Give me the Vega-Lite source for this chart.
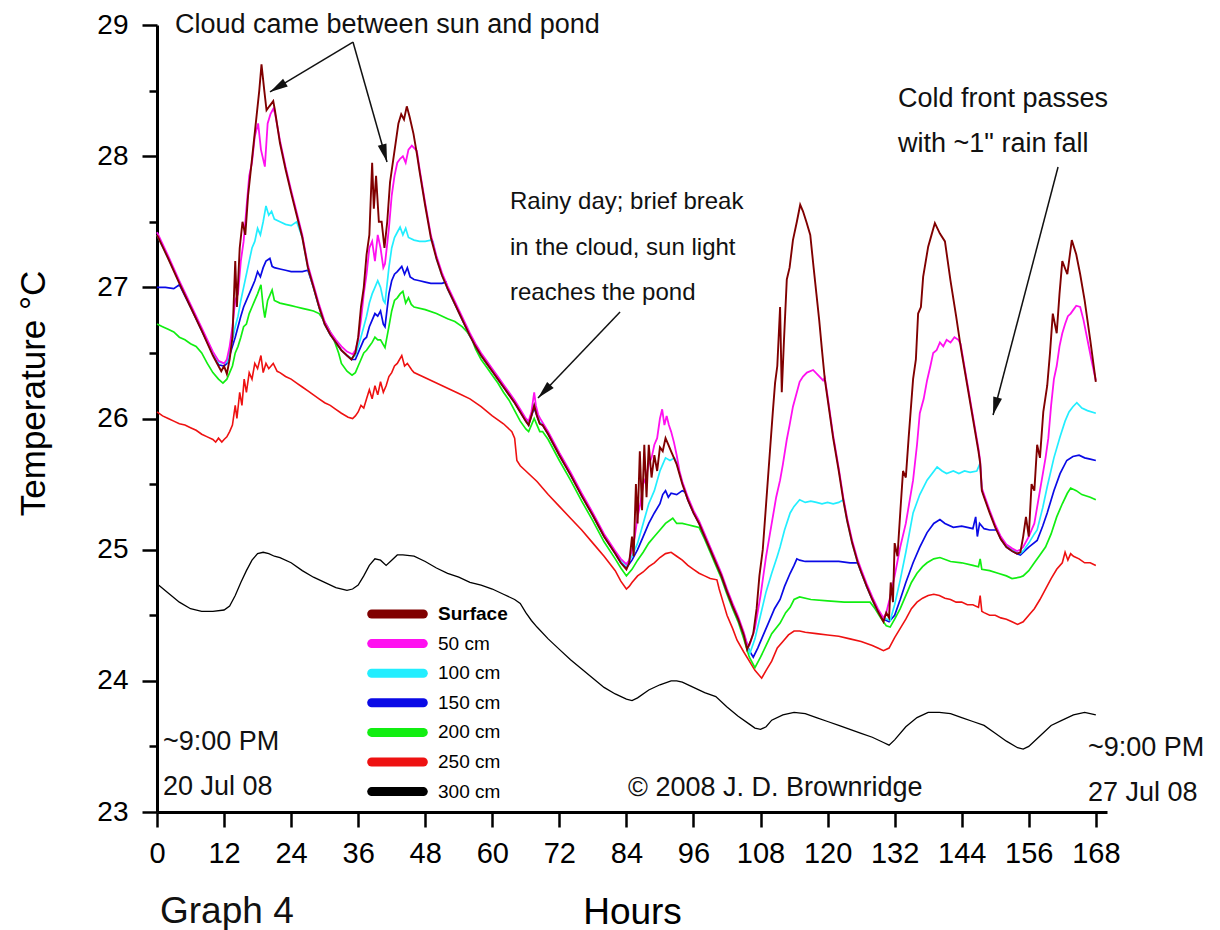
{
"$schema": "https://vega.github.io/schema/vega-lite/v6.json",
"width": 950, "height": 787,
"autosize": {"type": "none"},
"padding": {"left": 157, "top": 25, "right": 113, "bottom": 118},
"background": "white",
"datasets": {
"arrows": [
{"id": "a1", "h": 35.07, "t": 28.87, "h2": 20.22, "t2": 28.49},
{"id": "a2", "h": 35.07, "t": 28.87, "h2": 41.16, "t2": 27.956},
{"id": "a3", "h": 82.86, "t": 26.812, "h2": 68.18, "t2": 26.156},
{"id": "a4", "h": 161.24, "t": 27.917, "h2": 149.61, "t2": 26.027}
]
},
"layer": [
{"data": {"values": [{"h":0,"t":24.74},{"h":2,"t":24.67},{"h":4,"t":24.6},{"h":6,"t":24.55},{"h":8,"t":24.53},{"h":10,"t":24.53},{"h":12,"t":24.54},{"h":13,"t":24.57},{"h":14,"t":24.65},{"h":15,"t":24.75},{"h":16,"t":24.84},{"h":17,"t":24.92},{"h":18,"t":24.97},{"h":19,"t":24.98},{"h":20,"t":24.97},{"h":21,"t":24.95},{"h":22,"t":24.94},{"h":24,"t":24.9},{"h":26,"t":24.84},{"h":28,"t":24.79},{"h":30,"t":24.75},{"h":32,"t":24.71},{"h":34,"t":24.69},{"h":35,"t":24.7},{"h":36,"t":24.73},{"h":37,"t":24.8},{"h":38,"t":24.88},{"h":39,"t":24.93},{"h":40,"t":24.92},{"h":41,"t":24.88},{"h":42,"t":24.92},{"h":43,"t":24.96},{"h":44,"t":24.96},{"h":46,"t":24.95},{"h":48,"t":24.91},{"h":50,"t":24.86},{"h":52,"t":24.82},{"h":54,"t":24.79},{"h":56,"t":24.75},{"h":58,"t":24.73},{"h":60,"t":24.7},{"h":62,"t":24.66},{"h":64,"t":24.62},{"h":65,"t":24.59},{"h":66,"t":24.52},{"h":67,"t":24.46},{"h":68,"t":24.41},{"h":70,"t":24.32},{"h":72,"t":24.24},{"h":74,"t":24.16},{"h":76,"t":24.09},{"h":78,"t":24.02},{"h":80,"t":23.95},{"h":82,"t":23.9},{"h":84,"t":23.86},{"h":85,"t":23.85},{"h":86,"t":23.87},{"h":88,"t":23.93},{"h":90,"t":23.97},{"h":92,"t":24.0},{"h":93,"t":24.0},{"h":94,"t":23.99},{"h":96,"t":23.95},{"h":98,"t":23.91},{"h":100,"t":23.88},{"h":102,"t":23.8},{"h":104,"t":23.73},{"h":106,"t":23.67},{"h":107,"t":23.64},{"h":108,"t":23.63},{"h":109,"t":23.65},{"h":110,"t":23.7},{"h":112,"t":23.74},{"h":114,"t":23.76},{"h":116,"t":23.75},{"h":118,"t":23.72},{"h":120,"t":23.69},{"h":122,"t":23.66},{"h":124,"t":23.63},{"h":126,"t":23.6},{"h":128,"t":23.57},{"h":130,"t":23.53},{"h":131,"t":23.51},{"h":132,"t":23.55},{"h":134,"t":23.65},{"h":136,"t":23.72},{"h":138,"t":23.76},{"h":140,"t":23.76},{"h":142,"t":23.75},{"h":144,"t":23.72},{"h":146,"t":23.69},{"h":148,"t":23.66},{"h":150,"t":23.6},{"h":152,"t":23.54},{"h":154,"t":23.49},{"h":155,"t":23.48},{"h":156,"t":23.5},{"h":158,"t":23.58},{"h":160,"t":23.66},{"h":162,"t":23.7},{"h":164,"t":23.74},{"h":166,"t":23.76},{"h":168,"t":23.74}]},
 "mark": {"type": "line", "strokeWidth": 1.3},
 "encoding": {
  "x": {"field": "h", "type": "quantitative", "scale": {"domain": [0, 170], "nice": false, "zero": false},
   "axis": {"title": "Hours", "values": [0,6,12,18,24,30,36,42,48,54,60,66,72,78,84,90,96,102,108,114,120,126,132,138,144,150,156,162,168],
    "labelExpr": "datum.value % 12 === 0 ? datum.label : ''",
    "tickSize": {"condition": {"test": "datum.value % 12 === 0", "value": 15}, "value": 8},
    "labelPadding": 12, "labelFlush": false, "labelOverlap": false, "labelBound": false, "labelFontSize": 29,
    "titleFontSize": 37, "titleY": 111, "titleBaseline": "alphabetic"}},
  "y": {"field": "t", "type": "quantitative", "scale": {"domain": [23, 29], "nice": false, "zero": false},
   "axis": {"title": "Temperature °C", "values": [23,23.5,24,24.5,25,25.5,26,26.5,27,27.5,28,28.5,29],
    "labelExpr": "datum.value % 1 === 0 ? format(datum.value, 'd') : ''",
    "tickSize": {"condition": {"test": "datum.value % 1 === 0", "value": 15}, "value": 8},
    "labelPadding": 14, "labelFlush": false, "labelOverlap": false,
    "titleFontSize": 35, "titleX": -124, "titleY": 368, "titleAngle": -90, "titleBaseline": "middle", "titleAlign": "center"}},
  "color": {"datum": "300 cm", "type": "nominal",
   "scale": {"domain": ["Surface", "50 cm", "100 cm", "150 cm", "200 cm", "250 cm", "300 cm"],
             "range": ["#800000", "#FF10F0", "#22EEFF", "#0A0AE6", "#11EE11", "#EE1111", "#000000"]},
   "legend": {"title": null, "orient": "none", "legendX": 230, "legendY": 578.5, "padding": 0,
    "symbolType": "M-4.3,0H4.3", "symbolSize": 144, "symbolStrokeWidth": 9, "symbolOpacity": 1,
    "labelFontSize": 19, "labelOffset": 30, "rowPadding": -7.4, "labelColor": "#000", "labelFont": "Liberation Sans",
    "encode": {"symbols": {"update": {"strokeCap": {"value": "round"}, "strokeWidth": {"value": 9}}},
               "labels": {"update": {"fontWeight": {"signal": "datum.label === 'Surface' ? 'bold' : 'normal'"}}}}}}
 }
},
{"data": {"values": [{"h":0,"t":26.05},{"h":1,"t":26.02},{"h":2,"t":26.0},{"h":3,"t":25.98},{"h":4,"t":25.96},{"h":5,"t":25.95},{"h":6,"t":25.93},{"h":7,"t":25.91},{"h":8,"t":25.88},{"h":9,"t":25.86},{"h":10,"t":25.84},{"h":10.5,"t":25.82},{"h":11,"t":25.85},{"h":11.6,"t":25.82},{"h":12,"t":25.84},{"h":12.5,"t":25.86},{"h":13,"t":25.9},{"h":13.5,"t":25.95},{"h":14,"t":26.1},{"h":14.3,"t":26.0},{"h":14.8,"t":26.2},{"h":15.2,"t":26.1},{"h":15.6,"t":26.3},{"h":16,"t":26.2},{"h":16.5,"t":26.35},{"h":17,"t":26.3},{"h":17.5,"t":26.42},{"h":18,"t":26.38},{"h":18.6,"t":26.48},{"h":19,"t":26.35},{"h":19.5,"t":26.42},{"h":20,"t":26.38},{"h":20.8,"t":26.42},{"h":21.5,"t":26.36},{"h":22,"t":26.35},{"h":23,"t":26.32},{"h":24,"t":26.3},{"h":25,"t":26.27},{"h":26,"t":26.24},{"h":27,"t":26.21},{"h":28,"t":26.18},{"h":29,"t":26.15},{"h":30,"t":26.12},{"h":31,"t":26.1},{"h":32,"t":26.07},{"h":33,"t":26.04},{"h":34.2,"t":26.01},{"h":35,"t":26.0},{"h":35.5,"t":26.02},{"h":36,"t":26.05},{"h":36.5,"t":26.1},{"h":37,"t":26.08},{"h":37.5,"t":26.15},{"h":38,"t":26.22},{"h":38.5,"t":26.15},{"h":39,"t":26.25},{"h":39.5,"t":26.18},{"h":40,"t":26.28},{"h":40.5,"t":26.2},{"h":41,"t":26.25},{"h":41.5,"t":26.32},{"h":42,"t":26.35},{"h":42.5,"t":26.4},{"h":43,"t":26.42},{"h":43.8,"t":26.48},{"h":44.3,"t":26.4},{"h":44.8,"t":26.42},{"h":45.6,"t":26.37},{"h":46,"t":26.35},{"h":48,"t":26.31},{"h":50,"t":26.27},{"h":52,"t":26.23},{"h":54,"t":26.19},{"h":56,"t":26.15},{"h":58,"t":26.09},{"h":60,"t":26.02},{"h":62,"t":25.96},{"h":63.5,"t":25.9},{"h":64,"t":25.85},{"h":64.4,"t":25.68},{"h":65,"t":25.64},{"h":66,"t":25.6},{"h":68,"t":25.52},{"h":70,"t":25.42},{"h":72,"t":25.33},{"h":74,"t":25.24},{"h":76,"t":25.15},{"h":78,"t":25.05},{"h":80,"t":24.95},{"h":82,"t":24.84},{"h":83,"t":24.76},{"h":84,"t":24.7},{"h":84.5,"t":24.72},{"h":85,"t":24.75},{"h":86,"t":24.8},{"h":87,"t":24.83},{"h":88,"t":24.87},{"h":89,"t":24.9},{"h":90,"t":24.94},{"h":91,"t":24.97},{"h":92,"t":24.98},{"h":93,"t":24.95},{"h":94,"t":24.92},{"h":95,"t":24.88},{"h":96,"t":24.85},{"h":97,"t":24.82},{"h":98,"t":24.8},{"h":99,"t":24.78},{"h":100.2,"t":24.77},{"h":100.6,"t":24.7},{"h":101.3,"t":24.6},{"h":102,"t":24.5},{"h":103,"t":24.4},{"h":103.8,"t":24.31},{"h":105,"t":24.22},{"h":106,"t":24.15},{"h":107,"t":24.08},{"h":108.2,"t":24.02},{"h":109,"t":24.08},{"h":110,"t":24.15},{"h":111,"t":24.25},{"h":112,"t":24.3},{"h":113,"t":24.35},{"h":114,"t":24.38},{"h":115,"t":24.38},{"h":116,"t":24.37},{"h":118,"t":24.36},{"h":120,"t":24.35},{"h":122,"t":24.34},{"h":124,"t":24.32},{"h":126,"t":24.3},{"h":128,"t":24.27},{"h":129,"t":24.25},{"h":130,"t":24.23},{"h":131,"t":24.25},{"h":132,"t":24.33},{"h":133,"t":24.4},{"h":134,"t":24.47},{"h":135,"t":24.55},{"h":136,"t":24.6},{"h":137,"t":24.63},{"h":138,"t":24.65},{"h":139,"t":24.66},{"h":140,"t":24.65},{"h":141,"t":24.63},{"h":142,"t":24.62},{"h":143,"t":24.6},{"h":144,"t":24.6},{"h":145,"t":24.58},{"h":146,"t":24.58},{"h":147,"t":24.56},{"h":147.3,"t":24.65},{"h":147.6,"t":24.53},{"h":148,"t":24.52},{"h":149,"t":24.5},{"h":150,"t":24.5},{"h":151,"t":24.48},{"h":152,"t":24.47},{"h":153,"t":24.45},{"h":154,"t":24.43},{"h":155,"t":24.45},{"h":156,"t":24.5},{"h":157,"t":24.55},{"h":158,"t":24.62},{"h":159,"t":24.7},{"h":160,"t":24.78},{"h":161,"t":24.85},{"h":162,"t":24.9},{"h":162.5,"t":24.98},{"h":163,"t":24.92},{"h":163.5,"t":24.97},{"h":164,"t":24.95},{"h":165,"t":24.93},{"h":166,"t":24.9},{"h":167,"t":24.9},{"h":168,"t":24.88}]},
 "mark": {"type": "line", "strokeWidth": 1.6},
 "encoding": {"x": {"field": "h", "type": "quantitative"}, "y": {"field": "t", "type": "quantitative"}, "color": {"datum": "250 cm", "type": "nominal"}}
},
{"data": {"values": [{"h":0,"t":26.72},{"h":1,"t":26.7},{"h":2,"t":26.68},{"h":3,"t":26.66},{"h":4,"t":26.62},{"h":5,"t":26.6},{"h":6,"t":26.57},{"h":7,"t":26.55},{"h":8,"t":26.5},{"h":9,"t":26.42},{"h":10,"t":26.35},{"h":11,"t":26.3},{"h":11.8,"t":26.27},{"h":12.5,"t":26.3},{"h":13,"t":26.35},{"h":13.5,"t":26.4},{"h":14,"t":26.5},{"h":14.5,"t":26.55},{"h":15,"t":26.62},{"h":15.5,"t":26.7},{"h":16,"t":26.72},{"h":16.5,"t":26.8},{"h":17,"t":26.85},{"h":17.5,"t":26.9},{"h":18,"t":26.95},{"h":18.6,"t":27.02},{"h":19,"t":26.85},{"h":19.3,"t":26.77},{"h":19.8,"t":26.9},{"h":20.3,"t":26.95},{"h":20.6,"t":26.98},{"h":21,"t":26.9},{"h":22,"t":26.88},{"h":23,"t":26.87},{"h":24,"t":26.86},{"h":25,"t":26.85},{"h":26,"t":26.84},{"h":27,"t":26.83},{"h":28,"t":26.82},{"h":29,"t":26.8},{"h":29.5,"t":26.77},{"h":30.5,"t":26.7},{"h":31.5,"t":26.62},{"h":32.5,"t":26.5},{"h":33,"t":26.42},{"h":34,"t":26.36},{"h":34.9,"t":26.33},{"h":35.5,"t":26.35},{"h":36,"t":26.4},{"h":36.5,"t":26.45},{"h":37,"t":26.5},{"h":37.5,"t":26.52},{"h":38,"t":26.55},{"h":38.5,"t":26.58},{"h":39,"t":26.62},{"h":39.5,"t":26.6},{"h":40,"t":26.6},{"h":40.8,"t":26.54},{"h":41.5,"t":26.7},{"h":42,"t":26.82},{"h":42.5,"t":26.9},{"h":43,"t":26.92},{"h":43.5,"t":26.95},{"h":44,"t":26.97},{"h":44.5,"t":26.88},{"h":45,"t":26.92},{"h":45.5,"t":26.87},{"h":46,"t":26.85},{"h":48,"t":26.83},{"h":50,"t":26.8},{"h":52,"t":26.76},{"h":53.3,"t":26.74},{"h":54.6,"t":26.7},{"h":55.5,"t":26.66},{"h":56.3,"t":26.61},{"h":57,"t":26.53},{"h":58,"t":26.45},{"h":59,"t":26.39},{"h":60,"t":26.33},{"h":61,"t":26.27},{"h":62,"t":26.2},{"h":63,"t":26.14},{"h":64,"t":26.06},{"h":65,"t":25.98},{"h":66,"t":25.92},{"h":66.5,"t":25.9},{"h":67,"t":25.95},{"h":67.5,"t":26.0},{"h":68,"t":25.95},{"h":68.5,"t":25.9},{"h":69,"t":25.9},{"h":70,"t":25.84},{"h":72,"t":25.68},{"h":74,"t":25.53},{"h":76,"t":25.37},{"h":78,"t":25.22},{"h":80,"t":25.06},{"h":82,"t":24.93},{"h":83,"t":24.86},{"h":84,"t":24.8},{"h":85,"t":24.85},{"h":86,"t":24.92},{"h":87,"t":24.98},{"h":88,"t":25.05},{"h":89,"t":25.1},{"h":90,"t":25.15},{"h":91,"t":25.2},{"h":92.3,"t":25.24},{"h":93,"t":25.2},{"h":94,"t":25.2},{"h":95,"t":25.19},{"h":96,"t":25.18},{"h":97,"t":25.17},{"h":98,"t":25.08},{"h":99,"t":24.98},{"h":100,"t":24.88},{"h":101,"t":24.78},{"h":102,"t":24.66},{"h":103,"t":24.55},{"h":104,"t":24.45},{"h":105,"t":24.32},{"h":106,"t":24.18},{"h":107,"t":24.1},{"h":108,"t":24.18},{"h":109,"t":24.27},{"h":110,"t":24.36},{"h":111.5,"t":24.44},{"h":112.5,"t":24.52},{"h":113.3,"t":24.56},{"h":114,"t":24.62},{"h":115,"t":24.64},{"h":117,"t":24.62},{"h":120,"t":24.61},{"h":123,"t":24.6},{"h":125,"t":24.6},{"h":127.6,"t":24.6},{"h":128.5,"t":24.55},{"h":129.5,"t":24.48},{"h":130.5,"t":24.42},{"h":131.2,"t":24.41},{"h":132,"t":24.47},{"h":133,"t":24.55},{"h":134.2,"t":24.67},{"h":135,"t":24.75},{"h":136,"t":24.82},{"h":137,"t":24.87},{"h":137.8,"t":24.9},{"h":139,"t":24.93},{"h":140.1,"t":24.94},{"h":142,"t":24.91},{"h":144,"t":24.9},{"h":146,"t":24.88},{"h":147,"t":24.87},{"h":147.3,"t":24.93},{"h":147.6,"t":24.85},{"h":149,"t":24.84},{"h":150.5,"t":24.82},{"h":152,"t":24.8},{"h":153,"t":24.78},{"h":154.4,"t":24.79},{"h":155,"t":24.8},{"h":156,"t":24.84},{"h":157,"t":24.9},{"h":158,"t":24.96},{"h":159,"t":25.02},{"h":160,"t":25.12},{"h":161,"t":25.25},{"h":162,"t":25.35},{"h":162.9,"t":25.43},{"h":163.5,"t":25.47},{"h":164.5,"t":25.45},{"h":165.5,"t":25.42},{"h":167,"t":25.4},{"h":168,"t":25.38}]},
 "mark": {"type": "line", "strokeWidth": 1.7},
 "encoding": {"x": {"field": "h", "type": "quantitative"}, "y": {"field": "t", "type": "quantitative"}, "color": {"datum": "200 cm", "type": "nominal"}}
},
{"data": {"values": [{"h":0,"t":27.0},{"h":1.5,"t":27.0},{"h":3,"t":26.99},{"h":4,"t":27.02},{"h":6,"t":26.85},{"h":8,"t":26.67},{"h":10,"t":26.49},{"h":11,"t":26.41},{"h":12,"t":26.4},{"h":12.5,"t":26.42},{"h":13,"t":26.48},{"h":13.5,"t":26.55},{"h":14,"t":26.62},{"h":14.5,"t":26.7},{"h":15,"t":26.78},{"h":15.5,"t":26.85},{"h":16,"t":26.9},{"h":16.5,"t":26.95},{"h":17,"t":27.0},{"h":17.5,"t":27.05},{"h":18,"t":27.12},{"h":18.5,"t":27.08},{"h":19,"t":27.15},{"h":19.5,"t":27.2},{"h":20.2,"t":27.22},{"h":20.6,"t":27.16},{"h":21,"t":27.15},{"h":22,"t":27.14},{"h":23,"t":27.13},{"h":24,"t":27.12},{"h":25,"t":27.12},{"h":26,"t":27.12},{"h":27,"t":27.13},{"h":28,"t":27.0},{"h":29,"t":26.85},{"h":30,"t":26.72},{"h":31,"t":26.64},{"h":32,"t":26.58},{"h":33,"t":26.52},{"h":34,"t":26.48},{"h":34.8,"t":26.45},{"h":35.5,"t":26.45},{"h":36,"t":26.5},{"h":36.5,"t":26.55},{"h":37,"t":26.6},{"h":37.5,"t":26.62},{"h":38,"t":26.7},{"h":38.5,"t":26.75},{"h":39,"t":26.8},{"h":39.5,"t":26.78},{"h":40,"t":26.82},{"h":40.5,"t":26.72},{"h":40.8,"t":26.7},{"h":41.5,"t":26.95},{"h":42,"t":27.05},{"h":42.5,"t":27.1},{"h":43,"t":27.12},{"h":43.8,"t":27.16},{"h":44.3,"t":27.1},{"h":44.8,"t":27.15},{"h":45.3,"t":27.08},{"h":46,"t":27.06},{"h":47,"t":27.05},{"h":48,"t":27.04},{"h":49,"t":27.03},{"h":50,"t":27.03},{"h":51,"t":27.03},{"h":51.7,"t":27.04},{"h":52,"t":26.99},{"h":53,"t":26.9},{"h":54,"t":26.81},{"h":55,"t":26.72},{"h":56,"t":26.63},{"h":57,"t":26.55},{"h":58,"t":26.48},{"h":59,"t":26.42},{"h":60,"t":26.36},{"h":61,"t":26.3},{"h":62,"t":26.24},{"h":63,"t":26.18},{"h":64,"t":26.12},{"h":65,"t":26.05},{"h":66,"t":25.98},{"h":66.5,"t":25.95},{"h":67,"t":26.02},{"h":67.5,"t":26.08},{"h":68,"t":26.02},{"h":68.5,"t":25.96},{"h":69,"t":25.95},{"h":70,"t":25.88},{"h":72,"t":25.72},{"h":74,"t":25.57},{"h":76,"t":25.41},{"h":78,"t":25.26},{"h":80,"t":25.1},{"h":82,"t":24.97},{"h":83,"t":24.9},{"h":84,"t":24.86},{"h":85,"t":24.92},{"h":86,"t":25.0},{"h":87,"t":25.1},{"h":88,"t":25.2},{"h":89,"t":25.28},{"h":90,"t":25.35},{"h":90.5,"t":25.42},{"h":91,"t":25.45},{"h":91.5,"t":25.4},{"h":92,"t":25.43},{"h":93,"t":25.42},{"h":94,"t":25.45},{"h":94.5,"t":25.44},{"h":95,"t":25.38},{"h":96,"t":25.28},{"h":97,"t":25.2},{"h":98,"t":25.1},{"h":99,"t":25.0},{"h":100,"t":24.9},{"h":101,"t":24.8},{"h":102,"t":24.68},{"h":103,"t":24.57},{"h":104,"t":24.47},{"h":105,"t":24.35},{"h":106,"t":24.23},{"h":106.7,"t":24.18},{"h":107.5,"t":24.25},{"h":108.5,"t":24.35},{"h":109.5,"t":24.45},{"h":110.5,"t":24.55},{"h":111.5,"t":24.62},{"h":112.3,"t":24.72},{"h":113.3,"t":24.82},{"h":114,"t":24.88},{"h":114.5,"t":24.93},{"h":115,"t":24.92},{"h":116,"t":24.91},{"h":118,"t":24.91},{"h":120,"t":24.91},{"h":122,"t":24.91},{"h":124,"t":24.9},{"h":125.4,"t":24.9},{"h":126,"t":24.83},{"h":127,"t":24.72},{"h":128,"t":24.62},{"h":129,"t":24.53},{"h":130,"t":24.47},{"h":131,"t":24.45},{"h":132,"t":24.5},{"h":133,"t":24.62},{"h":134,"t":24.75},{"h":135.3,"t":24.9},{"h":136.5,"t":25.02},{"h":137.8,"t":25.13},{"h":139,"t":25.2},{"h":140.1,"t":25.23},{"h":141,"t":25.2},{"h":142.5,"t":25.17},{"h":144,"t":25.18},{"h":145,"t":25.17},{"h":146,"t":25.16},{"h":146.5,"t":25.25},{"h":146.8,"t":25.1},{"h":147.2,"t":25.2},{"h":148,"t":25.16},{"h":149,"t":25.15},{"h":150.3,"t":25.15},{"h":151,"t":25.08},{"h":152,"t":25.02},{"h":153,"t":24.99},{"h":153.9,"t":24.97},{"h":154.5,"t":24.96},{"h":155,"t":24.98},{"h":156,"t":25.02},{"h":157.5,"t":25.07},{"h":158.5,"t":25.18},{"h":159.3,"t":25.28},{"h":160.5,"t":25.45},{"h":161.6,"t":25.58},{"h":162.8,"t":25.68},{"h":163.9,"t":25.71},{"h":165,"t":25.72},{"h":166,"t":25.7},{"h":167,"t":25.69},{"h":168,"t":25.68}]},
 "mark": {"type": "line", "strokeWidth": 1.7},
 "encoding": {"x": {"field": "h", "type": "quantitative"}, "y": {"field": "t", "type": "quantitative"}, "color": {"datum": "150 cm", "type": "nominal"}}
},
{"data": {"values": [{"h":0,"t":27.4},{"h":2,"t":27.22},{"h":4,"t":27.04},{"h":6,"t":26.86},{"h":8,"t":26.68},{"h":10,"t":26.5},{"h":11,"t":26.43},{"h":12,"t":26.42},{"h":12.5,"t":26.43},{"h":13,"t":26.5},{"h":13.5,"t":26.6},{"h":14,"t":26.7},{"h":14.5,"t":26.78},{"h":15,"t":26.9},{"h":15.5,"t":27.0},{"h":16,"t":27.1},{"h":16.5,"t":27.2},{"h":17,"t":27.3},{"h":17.5,"t":27.35},{"h":18,"t":27.45},{"h":18.5,"t":27.4},{"h":19,"t":27.5},{"h":19.5,"t":27.62},{"h":20,"t":27.55},{"h":20.5,"t":27.58},{"h":21,"t":27.52},{"h":22,"t":27.5},{"h":23,"t":27.48},{"h":24,"t":27.47},{"h":25,"t":27.5},{"h":26,"t":27.38},{"h":27,"t":27.15},{"h":28,"t":27.0},{"h":29,"t":26.85},{"h":30,"t":26.72},{"h":31,"t":26.64},{"h":32,"t":26.58},{"h":33,"t":26.52},{"h":34,"t":26.48},{"h":34.8,"t":26.46},{"h":35.5,"t":26.48},{"h":36,"t":26.55},{"h":36.5,"t":26.62},{"h":37,"t":26.7},{"h":37.5,"t":26.78},{"h":38,"t":26.88},{"h":38.5,"t":26.95},{"h":39,"t":27.0},{"h":39.5,"t":27.05},{"h":40,"t":27.0},{"h":40.5,"t":26.9},{"h":40.8,"t":26.88},{"h":41.5,"t":27.15},{"h":42,"t":27.3},{"h":42.5,"t":27.38},{"h":43,"t":27.42},{"h":43.5,"t":27.46},{"h":44,"t":27.4},{"h":44.5,"t":27.45},{"h":45,"t":27.38},{"h":46,"t":27.36},{"h":47,"t":27.35},{"h":48,"t":27.35},{"h":49,"t":27.36},{"h":49.4,"t":27.35},{"h":50,"t":27.22},{"h":51,"t":27.09},{"h":52,"t":26.99},{"h":53,"t":26.9},{"h":54,"t":26.81},{"h":55,"t":26.72},{"h":56,"t":26.63},{"h":57,"t":26.56},{"h":58,"t":26.49},{"h":59,"t":26.43},{"h":60,"t":26.37},{"h":61,"t":26.31},{"h":62,"t":26.25},{"h":63,"t":26.19},{"h":64,"t":26.13},{"h":65,"t":26.06},{"h":66,"t":25.99},{"h":66.5,"t":25.96},{"h":67,"t":26.03},{"h":67.5,"t":26.1},{"h":68,"t":26.03},{"h":68.5,"t":25.97},{"h":69,"t":25.96},{"h":70,"t":25.89},{"h":72,"t":25.73},{"h":74,"t":25.58},{"h":76,"t":25.42},{"h":78,"t":25.27},{"h":80,"t":25.11},{"h":82,"t":24.98},{"h":83,"t":24.92},{"h":84,"t":24.88},{"h":85,"t":24.95},{"h":86,"t":25.05},{"h":87,"t":25.2},{"h":88,"t":25.35},{"h":89,"t":25.45},{"h":90,"t":25.6},{"h":90.5,"t":25.65},{"h":91,"t":25.7},{"h":91.8,"t":25.68},{"h":92.6,"t":25.7},{"h":93,"t":25.66},{"h":94,"t":25.51},{"h":95,"t":25.39},{"h":96,"t":25.29},{"h":97,"t":25.21},{"h":98,"t":25.11},{"h":99,"t":25.01},{"h":100,"t":24.91},{"h":101,"t":24.81},{"h":102,"t":24.69},{"h":103,"t":24.58},{"h":104,"t":24.48},{"h":105,"t":24.36},{"h":106.1,"t":24.21},{"h":107,"t":24.32},{"h":108,"t":24.5},{"h":109,"t":24.68},{"h":110,"t":24.82},{"h":111,"t":24.95},{"h":111.5,"t":25.02},{"h":112.3,"t":25.15},{"h":113.3,"t":25.28},{"h":114,"t":25.33},{"h":115,"t":25.38},{"h":116,"t":25.36},{"h":117,"t":25.37},{"h":118,"t":25.36},{"h":119,"t":25.35},{"h":120,"t":25.36},{"h":121,"t":25.35},{"h":122,"t":25.36},{"h":122.8,"t":25.38},{"h":123.5,"t":25.22},{"h":124.4,"t":25.05},{"h":125.4,"t":24.9},{"h":126,"t":24.83},{"h":127,"t":24.72},{"h":128,"t":24.62},{"h":129,"t":24.53},{"h":130,"t":24.48},{"h":131.2,"t":24.46},{"h":132,"t":24.58},{"h":133,"t":24.77},{"h":134,"t":24.98},{"h":135.3,"t":25.28},{"h":136.5,"t":25.42},{"h":137.8,"t":25.53},{"h":139.6,"t":25.63},{"h":140.5,"t":25.6},{"h":141.3,"t":25.58},{"h":142.5,"t":25.6},{"h":143.5,"t":25.58},{"h":144.5,"t":25.6},{"h":145.5,"t":25.59},{"h":146.7,"t":25.6},{"h":147.3,"t":25.66},{"h":147.6,"t":25.46},{"h":148,"t":25.41},{"h":149,"t":25.29},{"h":150,"t":25.18},{"h":151,"t":25.09},{"h":152,"t":25.03},{"h":153,"t":25.0},{"h":153.9,"t":24.98},{"h":154.5,"t":24.97},{"h":155,"t":24.99},{"h":156,"t":25.05},{"h":157,"t":25.12},{"h":157.5,"t":25.15},{"h":158.5,"t":25.32},{"h":159.3,"t":25.48},{"h":160.5,"t":25.7},{"h":161.6,"t":25.86},{"h":162.5,"t":25.98},{"h":163.2,"t":26.05},{"h":163.9,"t":26.09},{"h":164.6,"t":26.12},{"h":165.5,"t":26.08},{"h":166.5,"t":26.06},{"h":168,"t":26.04}]},
 "mark": {"type": "line", "strokeWidth": 1.7},
 "encoding": {"x": {"field": "h", "type": "quantitative"}, "y": {"field": "t", "type": "quantitative"}, "color": {"datum": "100 cm", "type": "nominal"}}
},
{"data": {"values": [{"h":0,"t":27.42},{"h":2,"t":27.24},{"h":4,"t":27.05},{"h":6,"t":26.87},{"h":8,"t":26.69},{"h":10,"t":26.51},{"h":11,"t":26.44},{"h":12,"t":26.42},{"h":12.5,"t":26.45},{"h":13,"t":26.55},{"h":13.5,"t":26.7},{"h":14,"t":26.9},{"h":14.5,"t":26.95},{"h":15,"t":27.2},{"h":15.5,"t":27.35},{"h":16,"t":27.6},{"h":16.5,"t":27.85},{"h":17,"t":27.95},{"h":17.5,"t":28.15},{"h":18.1,"t":28.25},{"h":18.6,"t":28.05},{"h":19.3,"t":27.92},{"h":19.8,"t":28.25},{"h":20.3,"t":28.32},{"h":20.8,"t":28.36},{"h":21.1,"t":28.33},{"h":22,"t":28.12},{"h":23,"t":27.92},{"h":24,"t":27.74},{"h":25,"t":27.57},{"h":26,"t":27.4},{"h":27,"t":27.17},{"h":28,"t":27.02},{"h":29,"t":26.87},{"h":30,"t":26.74},{"h":31,"t":26.66},{"h":32,"t":26.6},{"h":33,"t":26.55},{"h":34,"t":26.51},{"h":35,"t":26.49},{"h":35.5,"t":26.52},{"h":36,"t":26.6},{"h":36.5,"t":26.75},{"h":37,"t":26.95},{"h":37.5,"t":27.1},{"h":38,"t":27.3},{"h":38.5,"t":27.35},{"h":39,"t":27.2},{"h":39.5,"t":27.4},{"h":40,"t":27.3},{"h":40.5,"t":27.15},{"h":40.8,"t":27.18},{"h":41.5,"t":27.45},{"h":42,"t":27.7},{"h":42.5,"t":27.85},{"h":43,"t":27.95},{"h":43.5,"t":27.98},{"h":44,"t":28.0},{"h":44.5,"t":27.95},{"h":45,"t":28.05},{"h":45.6,"t":28.08},{"h":46.5,"t":28.04},{"h":47,"t":27.9},{"h":48,"t":27.64},{"h":49,"t":27.4},{"h":50,"t":27.24},{"h":51,"t":27.11},{"h":52,"t":27.01},{"h":53,"t":26.92},{"h":54,"t":26.83},{"h":55,"t":26.74},{"h":56,"t":26.65},{"h":57,"t":26.57},{"h":58,"t":26.5},{"h":59,"t":26.44},{"h":60,"t":26.38},{"h":61,"t":26.32},{"h":62,"t":26.26},{"h":63,"t":26.2},{"h":64,"t":26.14},{"h":65,"t":26.07},{"h":66,"t":26.0},{"h":66.5,"t":25.98},{"h":67,"t":26.05},{"h":67.5,"t":26.2},{"h":67.8,"t":26.1},{"h":68.2,"t":26.03},{"h":68.7,"t":25.99},{"h":69,"t":25.97},{"h":70,"t":25.9},{"h":72,"t":25.74},{"h":74,"t":25.59},{"h":76,"t":25.43},{"h":78,"t":25.28},{"h":80,"t":25.12},{"h":82,"t":24.99},{"h":83,"t":24.93},{"h":84,"t":24.89},{"h":84.5,"t":24.92},{"h":85,"t":25.0},{"h":85.5,"t":25.1},{"h":86,"t":25.25},{"h":86.5,"t":25.35},{"h":87,"t":25.5},{"h":87.5,"t":25.55},{"h":88,"t":25.65},{"h":88.5,"t":25.7},{"h":89,"t":25.8},{"h":89.5,"t":25.85},{"h":90,"t":26.0},{"h":90.4,"t":26.07},{"h":90.8,"t":25.95},{"h":91.2,"t":26.02},{"h":91.6,"t":25.95},{"h":92,"t":25.9},{"h":92.5,"t":25.82},{"h":93,"t":25.72},{"h":93.5,"t":25.6},{"h":94,"t":25.52},{"h":95,"t":25.4},{"h":96,"t":25.3},{"h":97,"t":25.22},{"h":98,"t":25.12},{"h":99,"t":25.02},{"h":100,"t":24.92},{"h":101,"t":24.82},{"h":102,"t":24.7},{"h":103,"t":24.59},{"h":104,"t":24.49},{"h":105,"t":24.37},{"h":105.6,"t":24.28},{"h":106,"t":24.27},{"h":107,"t":24.4},{"h":108,"t":24.65},{"h":109,"t":24.95},{"h":110,"t":25.2},{"h":110.8,"t":25.4},{"h":111.5,"t":25.53},{"h":112,"t":25.65},{"h":112.7,"t":25.84},{"h":113.2,"t":25.95},{"h":113.8,"t":26.09},{"h":114.5,"t":26.2},{"h":115,"t":26.28},{"h":115.6,"t":26.32},{"h":116.3,"t":26.35},{"h":117.4,"t":26.37},{"h":118.3,"t":26.33},{"h":119.2,"t":26.29},{"h":119.5,"t":26.31},{"h":120,"t":26.17},{"h":121,"t":25.87},{"h":122,"t":25.62},{"h":122.8,"t":25.4},{"h":123.5,"t":25.24},{"h":124.4,"t":25.07},{"h":125.4,"t":24.92},{"h":126,"t":24.85},{"h":127,"t":24.74},{"h":128,"t":24.64},{"h":129,"t":24.55},{"h":130,"t":24.48},{"h":130.5,"t":24.52},{"h":131.2,"t":24.64},{"h":132,"t":24.8},{"h":133,"t":25.02},{"h":134,"t":25.2},{"h":135.3,"t":25.53},{"h":136,"t":25.8},{"h":136.5,"t":26.04},{"h":137.2,"t":26.15},{"h":137.8,"t":26.29},{"h":138.4,"t":26.4},{"h":138.9,"t":26.5},{"h":139.5,"t":26.52},{"h":140.1,"t":26.58},{"h":140.7,"t":26.55},{"h":141.3,"t":26.6},{"h":142,"t":26.58},{"h":142.7,"t":26.62},{"h":143.4,"t":26.6},{"h":143.8,"t":26.57},{"h":144,"t":26.52},{"h":145,"t":26.27},{"h":146,"t":26.02},{"h":147,"t":25.77},{"h":147.3,"t":25.68},{"h":147.6,"t":25.47},{"h":148,"t":25.42},{"h":149,"t":25.3},{"h":150,"t":25.19},{"h":151,"t":25.1},{"h":152,"t":25.04},{"h":153,"t":25.01},{"h":153.9,"t":24.99},{"h":154.5,"t":25.0},{"h":155,"t":25.02},{"h":156,"t":25.1},{"h":157,"t":25.2},{"h":158,"t":25.45},{"h":159,"t":25.7},{"h":159.5,"t":25.85},{"h":160,"t":26.1},{"h":160.5,"t":26.3},{"h":161,"t":26.4},{"h":161.5,"t":26.55},{"h":162,"t":26.65},{"h":162.5,"t":26.72},{"h":163,"t":26.78},{"h":163.5,"t":26.8},{"h":164,"t":26.83},{"h":164.5,"t":26.86},{"h":165.2,"t":26.85},{"h":165.8,"t":26.75},{"h":166.5,"t":26.6},{"h":167.2,"t":26.45},{"h":168,"t":26.29}]},
 "mark": {"type": "line", "strokeWidth": 1.8},
 "encoding": {"x": {"field": "h", "type": "quantitative"}, "y": {"field": "t", "type": "quantitative"}, "color": {"datum": "50 cm", "type": "nominal"}}
},
{"data": {"values": [{"h":0,"t":27.4},{"h":2,"t":27.22},{"h":4,"t":27.03},{"h":6,"t":26.85},{"h":8,"t":26.67},{"h":10,"t":26.48},{"h":11,"t":26.4},{"h":11.5,"t":26.36},{"h":12,"t":26.4},{"h":12.5,"t":26.34},{"h":13,"t":26.45},{"h":13.5,"t":26.62},{"h":14,"t":27.2},{"h":14.3,"t":26.85},{"h":14.8,"t":27.3},{"h":15.3,"t":27.5},{"h":15.8,"t":27.4},{"h":16.3,"t":27.7},{"h":16.8,"t":27.9},{"h":17.3,"t":28.1},{"h":17.8,"t":28.3},{"h":18.3,"t":28.5},{"h":18.7,"t":28.7},{"h":19.2,"t":28.5},{"h":19.6,"t":28.35},{"h":20.1,"t":28.38},{"h":20.8,"t":28.42},{"h":21.1,"t":28.35},{"h":22,"t":28.1},{"h":23,"t":27.9},{"h":24,"t":27.72},{"h":25,"t":27.55},{"h":26,"t":27.38},{"h":27,"t":27.15},{"h":28,"t":27.0},{"h":29,"t":26.85},{"h":30,"t":26.72},{"h":31,"t":26.64},{"h":32,"t":26.58},{"h":33,"t":26.52},{"h":34,"t":26.48},{"h":34.8,"t":26.45},{"h":35.5,"t":26.5},{"h":36,"t":26.62},{"h":36.5,"t":26.85},{"h":37,"t":27.0},{"h":37.5,"t":27.25},{"h":38,"t":27.4},{"h":38.5,"t":27.95},{"h":38.8,"t":27.6},{"h":39.2,"t":27.85},{"h":39.7,"t":27.5},{"h":40.2,"t":27.5},{"h":40.7,"t":27.3},{"h":41.2,"t":27.5},{"h":41.7,"t":27.8},{"h":42.2,"t":27.95},{"h":42.7,"t":28.1},{"h":43.2,"t":28.25},{"h":43.7,"t":28.32},{"h":44.2,"t":28.28},{"h":44.7,"t":28.38},{"h":45.2,"t":28.3},{"h":45.9,"t":28.17},{"h":46.5,"t":28.02},{"h":47,"t":27.88},{"h":48,"t":27.62},{"h":49,"t":27.38},{"h":50,"t":27.22},{"h":51,"t":27.09},{"h":52,"t":26.99},{"h":53,"t":26.9},{"h":54,"t":26.81},{"h":55,"t":26.72},{"h":56,"t":26.63},{"h":57,"t":26.55},{"h":58,"t":26.48},{"h":59,"t":26.42},{"h":60,"t":26.36},{"h":61,"t":26.3},{"h":62,"t":26.24},{"h":63,"t":26.18},{"h":64,"t":26.12},{"h":65,"t":26.05},{"h":66,"t":25.98},{"h":66.5,"t":25.95},{"h":67,"t":26.02},{"h":67.5,"t":26.1},{"h":68,"t":26.02},{"h":68.5,"t":25.96},{"h":69,"t":25.95},{"h":70,"t":25.88},{"h":72,"t":25.72},{"h":74,"t":25.57},{"h":76,"t":25.41},{"h":78,"t":25.26},{"h":80,"t":25.1},{"h":82,"t":24.97},{"h":83,"t":24.9},{"h":84,"t":24.85},{"h":84.5,"t":24.9},{"h":85,"t":25.1},{"h":85.3,"t":24.95},{"h":85.7,"t":25.5},{"h":86,"t":25.2},{"h":86.4,"t":25.75},{"h":86.8,"t":25.3},{"h":87.2,"t":25.8},{"h":87.6,"t":25.4},{"h":88,"t":25.8},{"h":88.5,"t":25.55},{"h":89,"t":25.72},{"h":89.5,"t":25.6},{"h":90,"t":25.78},{"h":90.5,"t":25.75},{"h":91,"t":25.85},{"h":91.5,"t":25.8},{"h":92,"t":25.75},{"h":93,"t":25.65},{"h":94,"t":25.5},{"h":95,"t":25.38},{"h":96,"t":25.28},{"h":97,"t":25.2},{"h":98,"t":25.1},{"h":99,"t":25.0},{"h":100,"t":24.9},{"h":101,"t":24.8},{"h":102,"t":24.68},{"h":103,"t":24.57},{"h":104,"t":24.47},{"h":105,"t":24.35},{"h":105.6,"t":24.24},{"h":106.2,"t":24.3},{"h":106.7,"t":24.36},{"h":107.3,"t":24.55},{"h":107.8,"t":24.8},{"h":108.4,"t":25.0},{"h":109,"t":25.35},{"h":109.7,"t":25.76},{"h":110.2,"t":26.05},{"h":110.6,"t":26.27},{"h":111,"t":26.4},{"h":111.5,"t":26.85},{"h":111.8,"t":26.2},{"h":112.2,"t":26.6},{"h":112.7,"t":27.06},{"h":113.2,"t":27.15},{"h":113.8,"t":27.36},{"h":114.5,"t":27.5},{"h":115.1,"t":27.63},{"h":115.6,"t":27.58},{"h":116.2,"t":27.5},{"h":116.9,"t":27.4},{"h":117.5,"t":27.15},{"h":118,"t":26.95},{"h":118.5,"t":26.75},{"h":119,"t":26.52},{"h":119.5,"t":26.3},{"h":120,"t":26.15},{"h":121,"t":25.85},{"h":122,"t":25.6},{"h":122.8,"t":25.38},{"h":123.5,"t":25.22},{"h":124.4,"t":25.05},{"h":125.4,"t":24.9},{"h":126,"t":24.83},{"h":127,"t":24.72},{"h":128,"t":24.62},{"h":129,"t":24.53},{"h":130,"t":24.45},{"h":130.5,"t":24.52},{"h":131,"t":24.48},{"h":131.3,"t":24.75},{"h":131.7,"t":24.6},{"h":132,"t":25.05},{"h":132.5,"t":24.95},{"h":133,"t":25.28},{"h":133.5,"t":25.6},{"h":134,"t":25.55},{"h":134.5,"t":25.85},{"h":135.3,"t":26.3},{"h":135.8,"t":26.45},{"h":136.2,"t":26.8},{"h":136.7,"t":26.85},{"h":137.1,"t":27.08},{"h":138,"t":27.31},{"h":138.6,"t":27.4},{"h":139.2,"t":27.49},{"h":140.1,"t":27.41},{"h":141,"t":27.35},{"h":142,"t":27.05},{"h":143,"t":26.78},{"h":143.7,"t":26.58},{"h":144,"t":26.5},{"h":145,"t":26.25},{"h":146,"t":26.0},{"h":147,"t":25.75},{"h":147.3,"t":25.66},{"h":147.6,"t":25.45},{"h":148,"t":25.4},{"h":149,"t":25.28},{"h":150,"t":25.17},{"h":151,"t":25.08},{"h":152,"t":25.02},{"h":153,"t":24.99},{"h":153.9,"t":24.97},{"h":154.5,"t":24.98},{"h":155,"t":25.1},{"h":155.5,"t":25.25},{"h":156,"t":25.1},{"h":156.5,"t":25.5},{"h":157,"t":25.45},{"h":157.5,"t":25.8},{"h":158,"t":25.7},{"h":158.6,"t":26.05},{"h":159.3,"t":26.25},{"h":159.8,"t":26.5},{"h":160.3,"t":26.8},{"h":161,"t":26.65},{"h":161.5,"t":26.95},{"h":162,"t":27.2},{"h":162.9,"t":27.1},{"h":163.7,"t":27.36},{"h":164.5,"t":27.25},{"h":165.2,"t":27.1},{"h":166,"t":26.9},{"h":167,"t":26.6},{"h":168,"t":26.28}]},
 "mark": {"type": "line", "strokeWidth": 1.9},
 "encoding": {"x": {"field": "h", "type": "quantitative"}, "y": {"field": "t", "type": "quantitative"}, "color": {"datum": "Surface", "type": "nominal"}}
},
{"data": {"values": [
  {"label": "Cloud came between sun and pond", "h": 3.22, "t": 28.94},
  {"label": "Cold front passes\nwith ~1\" rain fall", "h": 132.6, "t": 28.375},
  {"label": "~9:00 PM\n20 Jul 08", "h": 1.07, "t": 23.47},
  {"label": "~9:00 PM\n27 Jul 08", "h": 166.6, "t": 23.427},
  {"label": "© 2008 J. D. Brownridge", "h": 84.29, "t": 23.122}
 ]},
 "mark": {"type": "text", "align": "left", "baseline": "alphabetic", "fontSize": 27, "lineBreak": "\n", "lineHeight": 45, "color": "#111", "font": "Liberation Sans"},
 "encoding": {"x": {"field": "h", "type": "quantitative"}, "y": {"field": "t", "type": "quantitative"}, "text": {"field": "label"}}
},
{"data": {"values": [
  {"label": "Rainy day; brief break\nin the cloud, sun light\nreaches the pond", "h": 63.17, "t": 27.597}
 ]},
 "mark": {"type": "text", "align": "left", "baseline": "alphabetic", "fontSize": 24, "lineBreak": "\n", "lineHeight": 45.5, "color": "#111", "font": "Liberation Sans"},
 "encoding": {"x": {"field": "h", "type": "quantitative"}, "y": {"field": "t", "type": "quantitative"}, "text": {"field": "label"}}
},
{"data": {"values": [
  {"label": "Graph 4", "h": 0.54, "t": 22.154}
 ]},
 "mark": {"type": "text", "align": "left", "baseline": "alphabetic", "fontSize": 37, "color": "#111", "font": "Liberation Sans"},
 "encoding": {"x": {"field": "h", "type": "quantitative"}, "y": {"field": "t", "type": "quantitative"}, "text": {"field": "label"}}
},
{"data": {"name": "arrows"},
 "mark": {"type": "rule", "strokeWidth": 1.5, "color": "#111"},
 "encoding": {"x": {"field": "h", "type": "quantitative"}, "y": {"field": "t", "type": "quantitative"}, "x2": {"field": "h2"}, "y2": {"field": "t2"}}
},
{"data": {"name": "arrows"}, "transform": [{"filter": "datum.id === 'a1'"}],
 "mark": {"type": "point", "shape": "M0,0L-0.45,1.8L0.45,1.8Z", "size": 400, "filled": true, "color": "#111", "opacity": 1, "strokeWidth": 0, "angle": 238.9},
 "encoding": {"x": {"field": "h2", "type": "quantitative"}, "y": {"field": "t2", "type": "quantitative"}}
},
{"data": {"name": "arrows"}, "transform": [{"filter": "datum.id === 'a2'"}],
 "mark": {"type": "point", "shape": "M0,0L-0.45,1.8L0.45,1.8Z", "size": 400, "filled": true, "color": "#111", "opacity": 1, "strokeWidth": 0, "angle": 164.2},
 "encoding": {"x": {"field": "h2", "type": "quantitative"}, "y": {"field": "t2", "type": "quantitative"}}
},
{"data": {"name": "arrows"}, "transform": [{"filter": "datum.id === 'a3'"}],
 "mark": {"type": "point", "shape": "M0,0L-0.45,1.8L0.45,1.8Z", "size": 400, "filled": true, "color": "#111", "opacity": 1, "strokeWidth": 0, "angle": 223.6},
 "encoding": {"x": {"field": "h2", "type": "quantitative"}, "y": {"field": "t2", "type": "quantitative"}}
},
{"data": {"name": "arrows"}, "transform": [{"filter": "datum.id === 'a4'"}],
 "mark": {"type": "point", "shape": "M0,0L-0.45,1.8L0.45,1.8Z", "size": 400, "filled": true, "color": "#111", "opacity": 1, "strokeWidth": 0, "angle": 194.7},
 "encoding": {"x": {"field": "h2", "type": "quantitative"}, "y": {"field": "t2", "type": "quantitative"}}
}
],
"config": {
 "font": "Liberation Sans",
 "view": {"stroke": null},
 "axis": {"grid": false, "domainColor": "#000", "tickColor": "#000", "labelColor": "#000", "titleColor": "#000",
          "domainWidth": 3, "tickWidth": 2.5, "labelFontSize": 28, "labelFont": "Liberation Sans",
          "titleFont": "Liberation Sans", "titleFontWeight": "normal"}
}
}
